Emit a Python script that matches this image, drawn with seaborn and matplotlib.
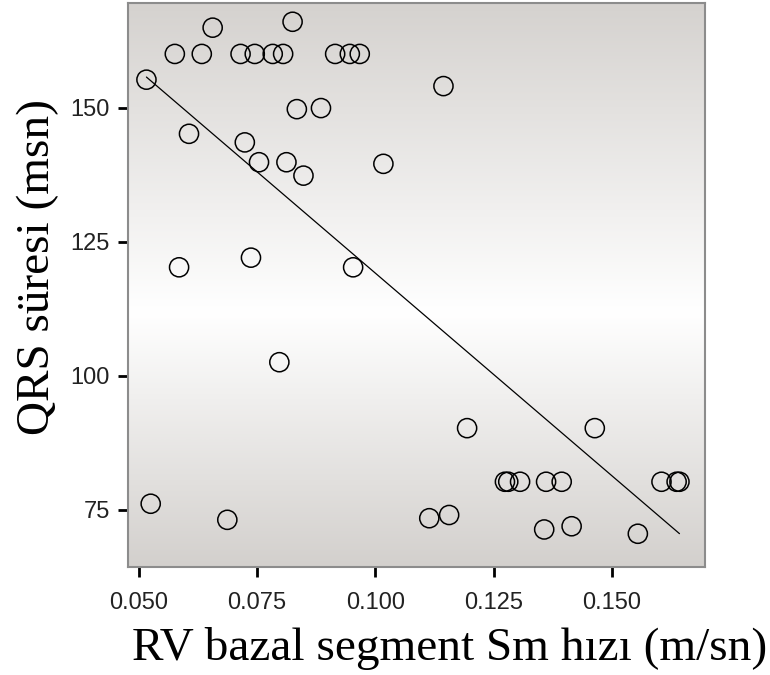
import numpy as np
import pandas as pd
import matplotlib
matplotlib.use("Agg")
import matplotlib.pyplot as plt
import seaborn as sns
from matplotlib.colors import LinearSegmentedColormap

# ---- data ----
rv_sm = [0.0516, 0.0576, 0.0633, 0.0656, 0.0715, 0.0745, 0.0783, 0.0805,
         0.0825, 0.0915, 0.0946, 0.0967, 0.0834, 0.0885, 0.0606, 0.0724,
         0.0754, 0.0812, 0.0848, 0.1017, 0.0585, 0.0737, 0.0953, 0.1144,
         0.0797, 0.0525, 0.0687, 0.1194, 0.1464, 0.1274, 0.1281, 0.1306,
         0.1361, 0.1394, 0.1605, 0.1637, 0.1643, 0.1114, 0.1156, 0.1357,
         0.1415, 0.1555]
qrs = [155.2, 160.0, 160.0, 164.9, 160.0, 160.0, 160.0, 160.0,
       166.0, 160.0, 160.0, 160.0, 149.7, 149.9, 145.1, 143.5,
       139.8, 139.8, 137.3, 139.5, 120.2, 122.0, 120.2, 154.0,
       102.5, 76.1, 73.1, 90.2, 90.2, 80.2, 80.2, 80.2,
       80.2, 80.2, 80.2, 80.2, 80.2, 73.4, 74.0, 71.3,
       71.9, 70.5]
x_ticks = [0.050, 0.075, 0.100, 0.125, 0.150]
x_tick_labels = ["0.050", "0.075", "0.100", "0.125", "0.150"]
y_ticks = [75, 100, 125, 150]
y_tick_labels = ["75", "100", "125", "150"]
x_label = "RV bazal segment Sm hızı (m/sn)"
y_label = "QRS süresi (msn)"

sns.set_theme(style="white")
plt.rcParams["font.family"] = ["Liberation Sans", "DejaVu Sans"]

fig = plt.figure(figsize=(7.7, 6.75), dpi=100)
ax = fig.add_axes([128 / 770, 108 / 675, 577 / 770, 564 / 675])

# background vertical gradient (gray - white - gray)
cmap = LinearSegmentedColormap.from_list(
    "bg", [(0.0, "#d3d0cd"), (0.45, "#ffffff"), (1.0, "#d5d2cf")])
grad = np.linspace(0, 1, 256).reshape(-1, 1)
ax.imshow(grad, cmap=cmap, extent=[0, 1, 0, 1], transform=ax.transAxes,
          aspect="auto", origin="lower", zorder=0, interpolation="bicubic")

df = pd.DataFrame({"rv": rv_sm, "qrs": qrs})
sns.regplot(data=df, x="rv", y="qrs", ax=ax, ci=None,
            scatter_kws=dict(s=190, facecolors="none", edgecolors="black",
                             linewidths=1.1, alpha=1, zorder=3),
            line_kws=dict(color="black", lw=0.9, zorder=2))

ax.set_xlim(0.0477, 0.1697)
ax.set_ylim(64.3, 169.5)
ax.set_xticks(x_ticks)
ax.set_xticklabels(x_tick_labels)
ax.set_yticks(y_ticks)
ax.set_yticklabels(y_tick_labels)

ax.tick_params(axis="both", which="both", bottom=True, left=True,
               direction="out", length=7, width=2, color="black",
               labelsize=17, labelcolor="#222222")
ax.tick_params(axis="x", pad=11)
ax.tick_params(axis="y", pad=6)

for sp in ax.spines.values():
    sp.set_color("#8c8c8c")
    sp.set_linewidth(1.5)

ax.set_xlabel(x_label, fontfamily="Liberation Serif", fontsize=34,
              color="black", labelpad=9)
ax.set_ylabel(y_label, fontfamily="Liberation Serif", fontsize=34,
              color="black", labelpad=8)
ax.xaxis.label.set_x(0.558)
ax.yaxis.label.set_y(0.532)

fig.savefig("out.png", dpi=100)
